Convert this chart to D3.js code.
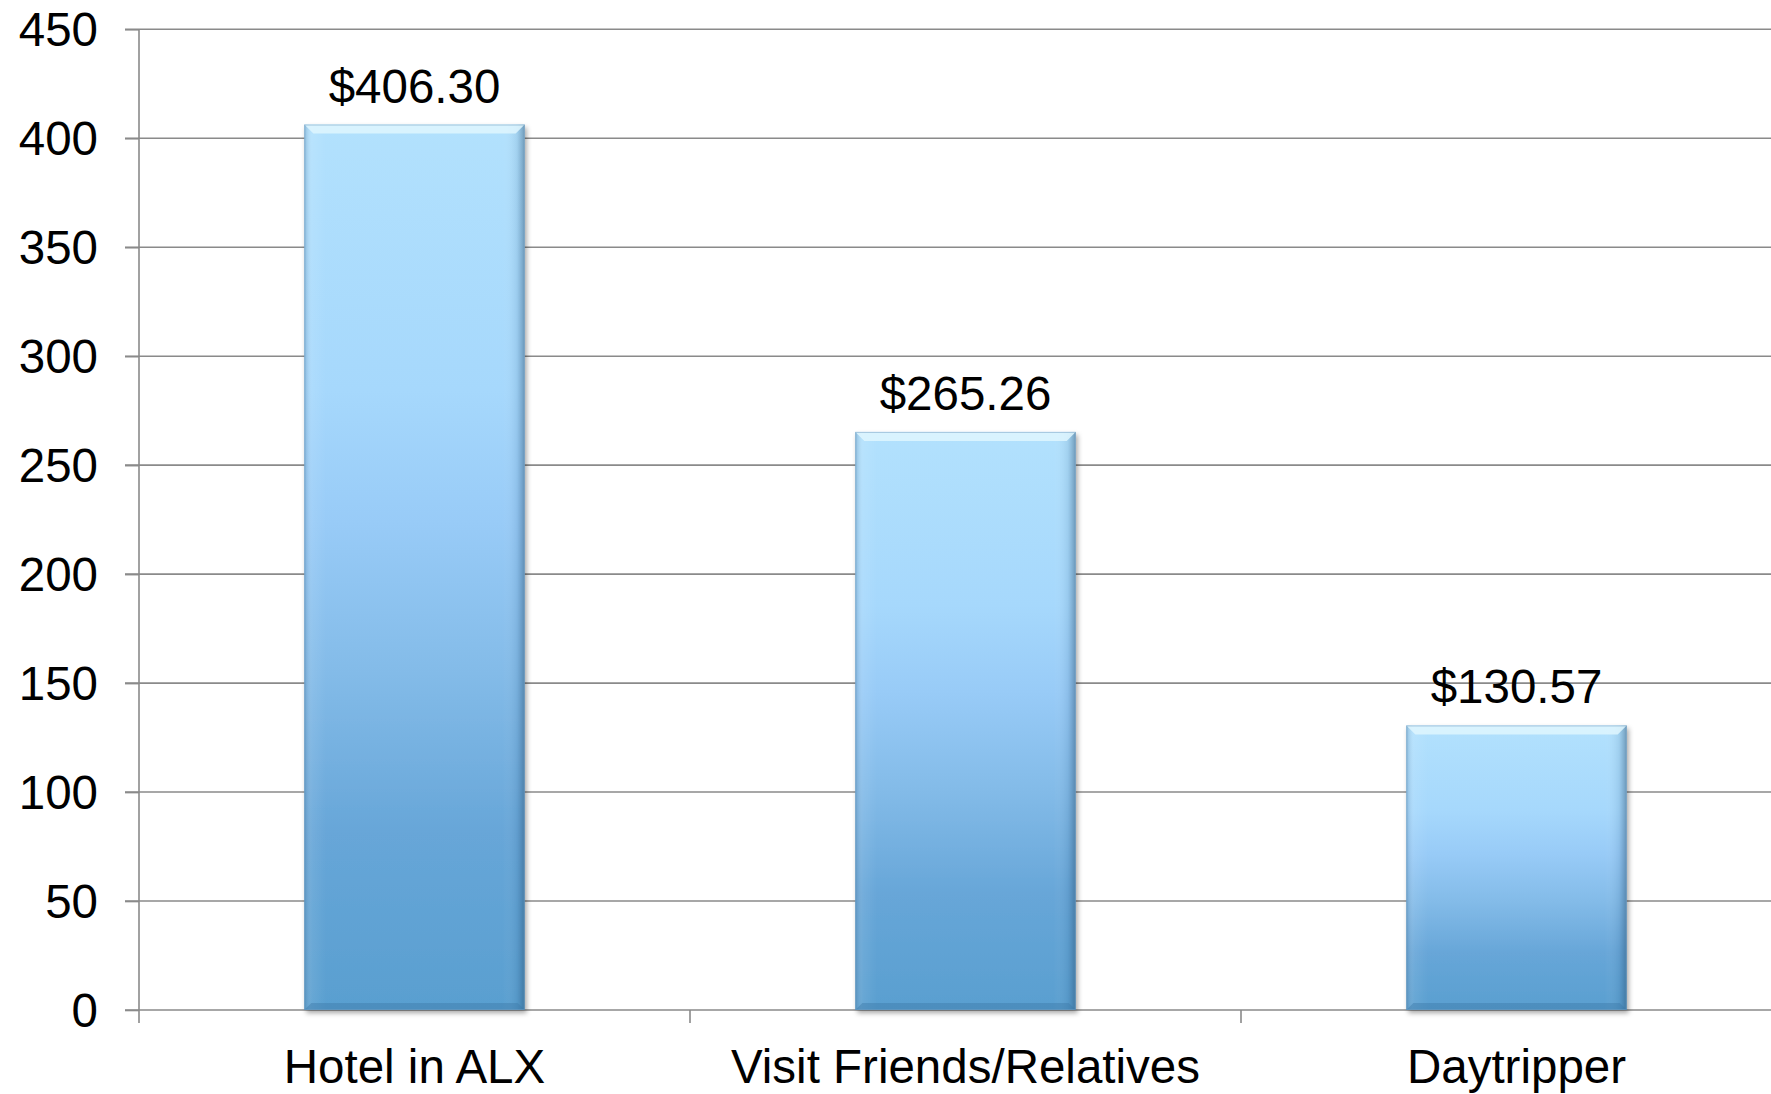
<!DOCTYPE html>
<html>
<head>
<meta charset="utf-8">
<script src="https://cdn.jsdelivr.net/npm/d3@7"></script>
<style>
  html, body { margin: 0; padding: 0; background: #ffffff; }
  svg { display: block; }
  text { font-family: "Liberation Sans", Arial, sans-serif; fill: #000; }
</style>
</head>
<body>
<svg id="chart" width="1771" height="1094"></svg>
<script>
// Average spend per visitor type
const categories = ["Hotel in ALX", "Visit Friends/Relatives", "Daytripper"];
const spend = [406.30, 265.26, 130.57];
const yTicks = [0, 50, 100, 150, 200, 250, 300, 350, 400, 450];

const svg = d3.select("#chart");
const plot = { left: 139, right: 1792, top: 29.3, bottom: 1010 };

const x = d3.scaleBand()
  .domain(categories)
  .range([plot.left, plot.right])
  .paddingInner(0.6)
  .paddingOuter(0.3);

const y = d3.scaleLinear()
  .domain([0, 450])
  .range([plot.bottom, plot.top]);

const defs = svg.append("defs");

// Vertical fill of each column: pale sky blue at the top, steel blue at the base
const grad = defs.append("linearGradient")
  .attr("id", "barFill")
  .attr("x1", 0).attr("y1", 0).attr("x2", 0).attr("y2", 1);
[[0, "#b2e1fd"], [0.3, "#a6d8fc"], [0.45, "#98cbf7"], [0.62, "#83bbe8"], [0.8, "#67a6d8"], [1, "#599fd0"]]
  .forEach(([o, c]) => grad.append("stop").attr("offset", o).attr("stop-color", c));

// Side shading for the bevelled look
const side = defs.append("linearGradient")
  .attr("id", "barSide")
  .attr("x1", 0).attr("y1", 0).attr("x2", 1).attr("y2", 0);
[[0, "#3f6f99", 0.35], [0.035, "#ffffff", 0.08], [0.1, "#ffffff", 0], [0.9, "#ffffff", 0], [0.965, "#2d5a82", 0.12], [1, "#1f4668", 0.45]]
  .forEach(([o, c, a]) => side.append("stop").attr("offset", o).attr("stop-color", c).attr("stop-opacity", a));

const shadow = defs.append("filter")
  .attr("id", "barShadow")
  .attr("x", "-10%").attr("y", "-10%").attr("width", "130%").attr("height", "130%");
shadow.append("feDropShadow")
  .attr("dx", 2).attr("dy", 3).attr("stdDeviation", 2.5)
  .attr("flood-color", "#000").attr("flood-opacity", 0.35);

// Horizontal gridlines with their left tick marks
svg.append("g").selectAll("line")
  .data(yTicks)
  .join("line")
  .attr("x1", plot.left - 14)
  .attr("x2", plot.right)
  .attr("y1", d => y(d))
  .attr("y2", d => y(d))
  .attr("stroke", "#8a8a8a")
  .attr("stroke-width", 1.6);

// Value axis
const yAxis = svg.append("g")
  .attr("transform", `translate(${plot.left},0)`)
  .call(d3.axisLeft(y).tickValues(yTicks).tickSize(14).tickPadding(27).tickFormat(d3.format("d")));
yAxis.select(".domain").attr("stroke", "#8a8a8a").attr("stroke-width", 1.6)
  .attr("d", `M0,${plot.top}V${plot.bottom}`);
yAxis.selectAll(".tick line").attr("stroke", "#8a8a8a").attr("stroke-width", 1.6);
yAxis.selectAll(".tick text")
  .attr("font-size", 47.5)
  .attr("font-family", "'Liberation Sans', Arial, sans-serif")
  .attr("fill", "#000")
  .attr("dy", "0.35em");

// Category axis: tick marks at the band boundaries
const bounds = d3.range(categories.length + 1).map(i => plot.left + i * x.step());
svg.append("g").selectAll("line")
  .data(bounds)
  .join("line")
  .attr("x1", d => d).attr("x2", d => d)
  .attr("y1", plot.bottom).attr("y2", plot.bottom + 13)
  .attr("stroke", "#8a8a8a")
  .attr("stroke-width", 1.6);

svg.append("g").selectAll("text")
  .data(categories)
  .join("text")
  .attr("x", d => x(d) + x.bandwidth() / 2)
  .attr("y", 1083)
  .attr("text-anchor", "middle")
  .attr("font-size", 47.5)
  .text(d => d);

// Columns
const rows = categories.map((c, i) => ({ c, v: spend[i] }));
const bars = svg.append("g").selectAll("g")
  .data(rows)
  .join("g");

bars.append("rect")
  .attr("x", d => x(d.c))
  .attr("y", d => y(d.v))
  .attr("width", x.bandwidth())
  .attr("height", d => y(0) - y(d.v))
  .attr("fill", "url(#barFill)")
  .attr("filter", "url(#barShadow)");

bars.append("rect")
  .attr("x", d => x(d.c))
  .attr("y", d => y(d.v))
  .attr("width", x.bandwidth())
  .attr("height", d => y(0) - y(d.v))
  .attr("fill", "url(#barSide)");

// Light bevel along the top edge
const bevel = 9;
bars.append("path")
  .attr("d", d => {
    const x0 = x(d.c), x1 = x0 + x.bandwidth(), t = y(d.v);
    return `M${x0},${t}L${x1},${t}L${x1 - bevel},${t + bevel}L${x0 + bevel},${t + bevel}Z`;
  })
  .attr("fill", "#dff6fe")
  .attr("opacity", 0.85);

// Darker bevel along the base
bars.append("path")
  .attr("d", d => {
    const x0 = x(d.c), x1 = x0 + x.bandwidth(), b = y(0);
    return `M${x0},${b}L${x1},${b}L${x1 - 7},${b - 7}L${x0 + 7},${b - 7}Z`;
  })
  .attr("fill", "#3d7aa8")
  .attr("opacity", 0.45);

// Thin outline
bars.append("rect")
  .attr("x", d => x(d.c) + 0.5)
  .attr("y", d => y(d.v) + 0.5)
  .attr("width", x.bandwidth() - 1)
  .attr("height", d => y(0) - y(d.v) - 1)
  .attr("fill", "none")
  .attr("stroke", "#6f9cc0")
  .attr("stroke-opacity", 0.5)
  .attr("stroke-width", 1);

// Value labels
svg.append("g").selectAll("text")
  .data(rows)
  .join("text")
  .attr("x", d => x(d.c) + x.bandwidth() / 2)
  .attr("y", d => y(d.v) - 22)
  .attr("text-anchor", "middle")
  .attr("font-size", 47.5)
  .text(d => "$" + d3.format(".2f")(d.v));
</script>
</body>
</html>
